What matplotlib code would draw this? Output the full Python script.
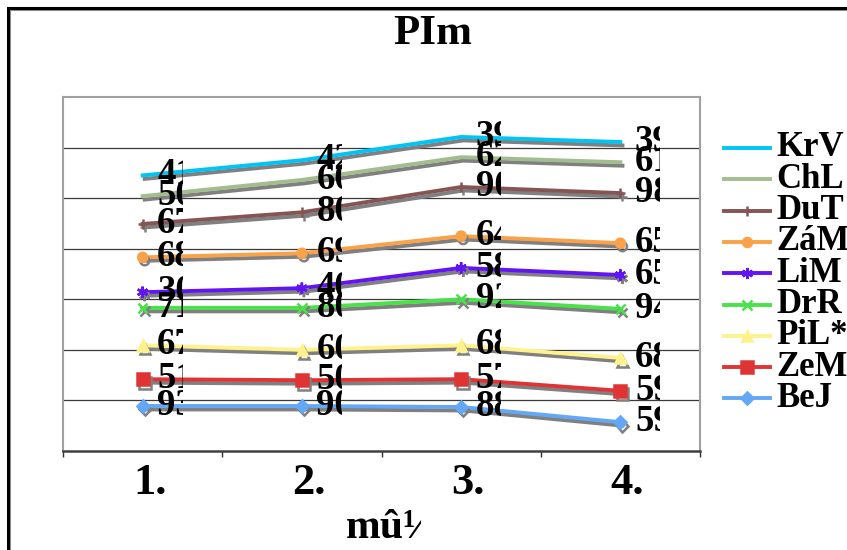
import matplotlib
matplotlib.use('Agg')
import matplotlib.pyplot as plt
import matplotlib.patheffects as pe
from matplotlib.transforms import Bbox, ScaledTranslation
from matplotlib.patches import Rectangle
from matplotlib.lines import Line2D

# data (gridline units, no y scale is shown)
categories = ['1.', '2.', '3.', '4.']
names = ['KrV', 'ChL', 'DuT', 'ZáM', 'LiM', 'DrR', 'PiL*', 'ZeM', 'BeJ']

krv = [5.45, 5.75, 6.21, 6.11]
chl = [5.04, 5.36, 5.81, 5.71]
dut = [4.49, 4.72, 5.22, 5.10]
zam = [3.83, 3.91, 4.25, 4.11]
lim = [3.14, 3.22, 3.62, 3.48]
drr = [2.83, 2.83, 3.00, 2.81]
pil = [2.09, 2.00, 2.09, 1.84]
zem = [1.42, 1.40, 1.42, 1.19]
bej = [0.89, 0.89, 0.87, 0.57]

krv_lbl = ['41', '42', '39', '39']
chl_lbl = ['50', '60', '62', '61']
dut_lbl = ['67', '80', '90', '98']
zam_lbl = ['68', '69', '64', '65']
lim_lbl = ['30', '40', '58', '65']
drr_lbl = ['71', '80', '92', '94']
pil_lbl = ['67', '60', '68', '68']
zem_lbl = ['51', '50', '57', '59']
bej_lbl = ['93', '90', '88', '59']

values = [krv, chl, dut, zam, lim, drr, pil, zem, bej]
labels = [krv_lbl, chl_lbl, dut_lbl, zam_lbl, lim_lbl, drr_lbl, pil_lbl, zem_lbl, bej_lbl]

colors = ['#00c4f4', '#a2bd8e', '#875454', '#f9a24a', '#6214f2',
          '#4ae24a', '#fff28c', '#e03434', '#62a8f6']
markers = [None, None, '+', 'o', (6, 2, 0), 'x', '^', 's', 'D']
msizes = [0, 0, 7, 6.5, 8, 7, 7.5, 8.5, 6]

W, H = 847, 550
FONT = 'Liberation Serif'


def fx(x):
    return x / W


def fy(y):
    return 1 - y / H


fig = plt.figure(figsize=(W / 100, H / 100), dpi=100)
fig.patch.set_facecolor('white')

# outer chart border (runs off the right and bottom edges)
fig.add_artist(Rectangle((fx(8), -0.5), 2, fy(8) + 0.5, transform=fig.transFigure,
                         fill=False, ec='black', lw=2.2,
                         path_effects=[pe.SimpleLineShadow(offset=(0.8, -0.8), shadow_color='#909090', alpha=1.0),
                                       pe.Normal()]))

ax = fig.add_axes([fx(63), fy(451), (700 - 63) / W, (451 - 97) / H])
ax.set_xlim(0, 4)
ax.set_ylim(0, 7)
ax.set_yticks(range(1, 7))
ax.yaxis.grid(True, color='#3a3a3a', lw=0.9)
ax.set_axisbelow(True)
ax.tick_params(axis='y', left=False, labelleft=False)

ax.set_xticks([0, 1, 2, 3, 4])
ax.set_xticklabels([])
ax.tick_params(axis='x', which='major', direction='out', length=4.3, width=1, color='#303030')
ax.set_xticks([0.5, 1.5, 2.5, 3.5], minor=True)
ax.set_xticklabels(categories, minor=True, fontsize=32, fontweight='bold', family=FONT)
ax.tick_params(axis='x', which='minor', length=0, pad=8.6)
for t in ax.xaxis.get_minorticklabels():
    t.set_transform(t.get_transform() + ScaledTranslation(0.07, 0, fig.dpi_scale_trans))

for s in ['left', 'top', 'right']:
    ax.spines[s].set_color('#a0a0a0')
    ax.spines[s].set_linewidth(1.5)
ax.spines['bottom'].set_color('#404040')
ax.spines['bottom'].set_linewidth(1.8)

xs = [0.5, 1.5, 2.5, 3.5]
shadow = [pe.SimpleLineShadow(offset=(1.5, -2.5), shadow_color='#808080', alpha=1.0), pe.Normal()]

for i in range(len(names) - 1, -1, -1):
    ax.plot(xs, values[i], color=colors[i], lw=2.8, marker=markers[i], ms=msizes[i],
            mew=1.8, mec=colors[i], mfc=colors[i], path_effects=shadow,
            solid_joinstyle='round', zorder=3 + (len(names) - i) * 0.1)

# data labels, cut short like in the original
for i in range(len(names)):
    for x, v, t in zip(xs, values[i], labels[i]):
        px, py = ax.transData.transform((x, v))
        a = ax.annotate(t, (x, v), xytext=(10.5, 0.5), textcoords='offset points',
                        ha='left', va='center', fontsize=26.5, fontweight='bold',
                        family=FONT, color='black', zorder=10, annotation_clip=False)
        a.set_clip_box(Bbox([[px + 12, py - 40], [px + 40, py + 40]]))
        a.set_clip_on(True)

# title and axis title
fig.text(fx(433), fy(44), 'PIm', ha='center', va='baseline', fontsize=31,
         fontweight='bold', family=FONT)
xt = fig.text(fx(390), fy(538), 'mû½', ha='center', va='baseline', fontsize=30,
              fontweight='bold', family=FONT)
xt.set_clip_box(Bbox([[0, 0], [421, H]]))
xt.set_clip_on(True)

# legend drawn by hand
for i in range(len(names)):
    y = 148 + i * 31.3
    fig.add_artist(Line2D([fx(724), fx(770)], [fy(y), fy(y)], transform=fig.transFigure,
                          color=colors[i], lw=2.8))
    if markers[i] is not None:
        fig.add_artist(Line2D([fx(747)], [fy(y)], transform=fig.transFigure,
                              marker=markers[i], ms=msizes[i], mew=1.8,
                              mec=colors[i], mfc=colors[i], color=colors[i]))
    fig.text(fx(776), fy(y), names[i], ha='left', va='center', fontsize=25,
             fontweight='bold', family=FONT)

fig.savefig('out.png', dpi=100)
